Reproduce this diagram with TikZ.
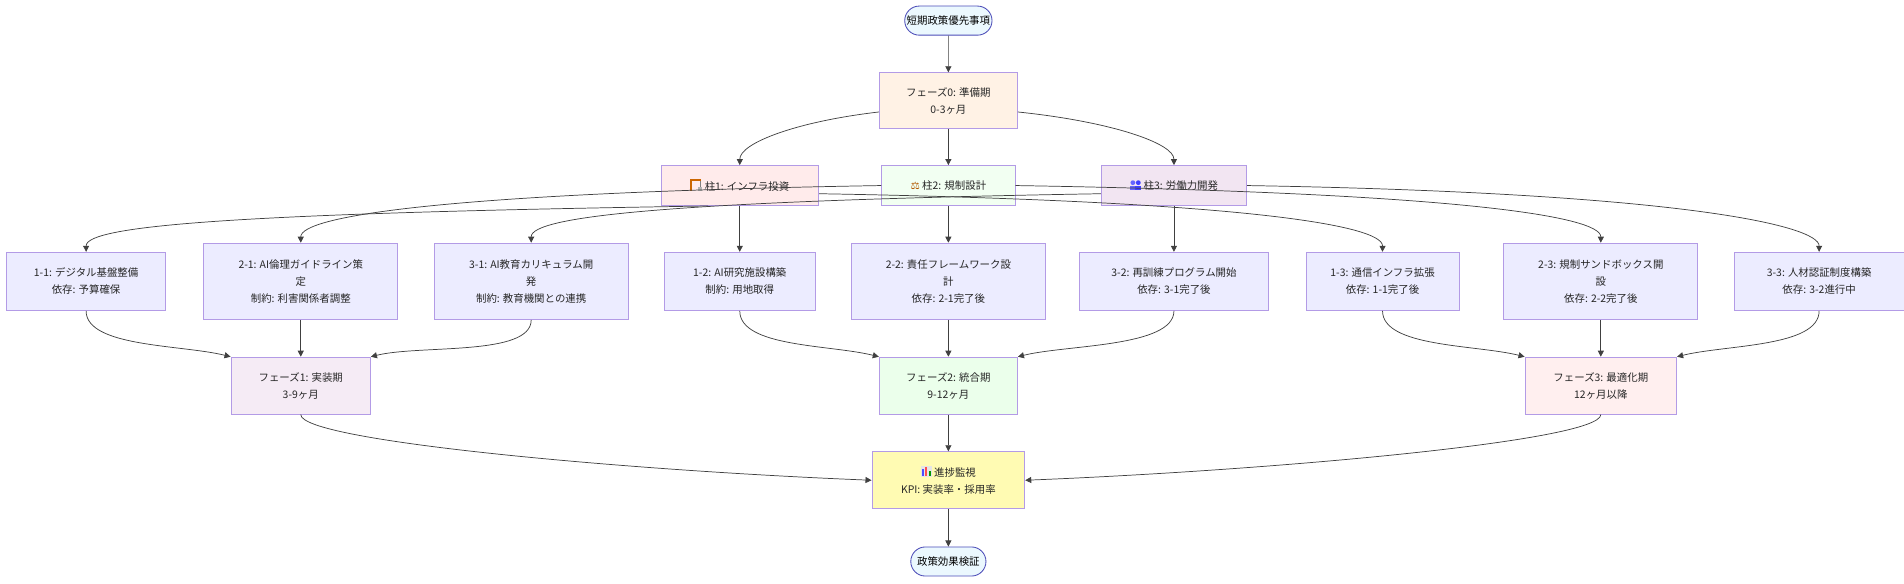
\documentclass[tikz,border=0pt]{standalone}
\usepackage{fontspec}
\setmainfont{Noto Sans CJK JP}
\newfontfamily\dejavu{DejaVu Sans}
\usetikzlibrary{shapes.misc,arrows.meta,calc}
\definecolor{lv}{HTML}{ECECFF}
\definecolor{lvb}{HTML}{9370DB}
\begin{document}
\begin{tikzpicture}[x=1pt,y=-1pt,
  font=\fontsize{8.6}{14}\selectfont,
  box/.style={draw=lvb!70,line width=0.7pt,align=center,inner sep=2pt,minimum height=48,text=black!85},
  leaf/.style={box,fill=lv},
  term/.style={rounded rectangle,draw=blue!60!black!70,line width=0.7pt,fill=cyan!8,minimum height=24,inner xsep=6pt},
  e/.style={draw=black!75,line width=0.6pt,-{Triangle[length=5pt,width=5pt]}}]
\useasboundingbox (0,0) rectangle (1570,481);
\node[term,minimum width=84] (s) at (782,17) {短期政策優先事項};
\node[box,fill=orange!10,minimum width=114,minimum height=46] (p0) at (782,83) {フェーズ0: 準備期\\0-3ヶ月};
\node[box,fill=red!8,minimum width=130,minimum height=33] (c1) at (610,153) {\tikz[x=1pt,y=1pt]{\fill[orange!80!black](0,0) rectangle (1.5,9);\fill[orange!80!black](0,8) rectangle (9,9.5);\draw[gray,line width=0.5pt](8,8)--(8,3);\fill[gray!60](6,0) rectangle (10,3);} 柱1: インフラ投資};
\node[box,fill=green!5,minimum width=110,minimum height=33] (c2) at (782,153) {{\dejavu\color{orange!70!black}⚖}\ 柱2: 規制設計};
\node[box,fill=violet!10,minimum width=120,minimum height=33] (c3) at (968,153) {\tikz[x=1pt,y=1pt]{\fill[blue!60](2.5,6) circle (2);\fill[blue!60](0,0) rectangle (5,3.6);\fill[blue!75](7,6) circle (2);\fill[blue!75](4.5,0) rectangle (9.5,3.6);} 柱3: 労働力開発};
\node[leaf,minimum width=131] (l11) at (71,232) {1-1: デジタル基盤整備\\依存: 予算確保};
\node[leaf,minimum width=160,minimum height=63] (l21) at (248,232) {2-1: AI倫理ガイドライン策\\定\\制約: 利害関係者調整};
\node[leaf,minimum width=160,minimum height=63] (l31) at (438,232) {3-1: AI教育カリキュラム開\\発\\制約: 教育機関との連携};
\node[leaf,minimum width=125] (l12) at (610,232) {1-2: AI研究施設構築\\制約: 用地取得};
\node[leaf,minimum width=160,minimum height=63] (l22) at (782,232) {2-2: 責任フレームワーク設\\計\\依存: 2-1完了後};
\node[leaf,minimum width=156] (l32) at (968,232) {3-2: 再訓練プログラム開始\\依存: 3-1完了後};
\node[leaf,minimum width=126] (l13) at (1140,232) {1-3: 通信インフラ拡張\\依存: 1-1完了後};
\node[leaf,minimum width=160,minimum height=63] (l23) at (1320,232) {2-3: 規制サンドボックス開\\設\\依存: 2-2完了後};
\node[leaf,minimum width=140] (l33) at (1500,232) {3-3: 人材認証制度構築\\依存: 3-2進行中};
\node[box,fill=violet!8,minimum width=115,minimum height=47] (f1) at (248,318) {フェーズ1: 実装期\\3-9ヶ月};
\node[box,fill=green!8,minimum width=114,minimum height=47] (f2) at (782,318) {フェーズ2: 統合期\\9-12ヶ月};
\node[box,fill=pink!25,minimum width=125,minimum height=47] (f3) at (1320,318) {フェーズ3: 最適化期\\12ヶ月以降};
\node[box,fill=yellow!30,minimum width=126,minimum height=47] (m) at (782,396) {\tikz[x=1pt,y=1pt]{\fill[gray!20](0,0) rectangle (9,9);\fill[blue!70](1,1) rectangle (2.6,6);\fill[red!70](3.7,1) rectangle (5.3,8);\fill[green!60!black](6.4,1) rectangle (8,4.5);} 進捗監視\\KPI: 実装率・採用率};
\node[term,minimum width=74] (t) at (782,463) {政策効果検証};
\coordinate (p0l) at ($(p0.south west)!0.3!(p0.north west)$);
\coordinate (p0r) at ($(p0.south east)!0.3!(p0.north east)$);
\coordinate (c1l) at ($(c1.south west)!0.3!(c1.south east)$);
\coordinate (c1r) at ($(c1.south east)!0.3!(c1.north east)$);
\coordinate (c2l) at ($(c2.south west)!0.5!(c2.north west)$);
\coordinate (c2r) at ($(c2.south east)!0.5!(c2.north east)$);
\coordinate (c3l) at ($(c3.south west)!0.3!(c3.north west)$);
\coordinate (c3r) at ($(c3.south east)!0.5!(c3.north east)$);
\draw[e] (s) -- (p0);
\draw[e] (p0) -- (c2);
\draw[e] (p0l) .. controls ($(p0l)!0.6!(c1.north|-p0l)+(0,8)$) and ($(c1.north)+(0,-18)$) .. (c1.north);
\draw[e] (p0r) .. controls ($(p0r)!0.6!(c3.north|-p0r)+(0,8)$) and ($(c3.north)+(0,-18)$) .. (c3.north);
\draw[e] (c1.south) -- (l12);
\draw[e] (c2.south) -- (l22);
\draw[e] (c3.south) -- (l32);
\draw[e] (c1l) .. controls ($(c1l)!0.75!(l11.north|-c1l)+(0,6)$) and ($(l11.north)+(0,-22)$) .. (l11.north);
\draw[e] (c1r) .. controls ($(c1r)!0.75!(l13.north|-c1r)+(0,6)$) and ($(l13.north)+(0,-22)$) .. (l13.north);
\draw[e] (c2l) .. controls ($(c2l)!0.75!(l21.north|-c2l)+(0,6)$) and ($(l21.north)+(0,-22)$) .. (l21.north);
\draw[e] (c2r) .. controls ($(c2r)!0.75!(l23.north|-c2r)+(0,6)$) and ($(l23.north)+(0,-22)$) .. (l23.north);
\draw[e] (c3l) .. controls ($(c3l)!0.75!(l31.north|-c3l)+(0,6)$) and ($(l31.north)+(0,-22)$) .. (l31.north);
\draw[e] (c3r) .. controls ($(c3r)!0.75!(l33.north|-c3r)+(0,6)$) and ($(l33.north)+(0,-22)$) .. (l33.north);
\draw[e] (l11.south) .. controls +(0,30) and +(-40,-10) .. (f1.north west);
\draw[e] (l21.south) -- (f1.north);
\draw[e] (l31.south) .. controls +(0,30) and +(40,-10) .. (f1.north east);
\draw[e] (l12.south) .. controls +(0,30) and +(-40,-10) .. (f2.north west);
\draw[e] (l22.south) -- (f2.north);
\draw[e] (l32.south) .. controls +(0,30) and +(40,-10) .. (f2.north east);
\draw[e] (l13.south) .. controls +(0,30) and +(-40,-10) .. (f3.north west);
\draw[e] (l23.south) -- (f3.north);
\draw[e] (l33.south) .. controls +(0,30) and +(40,-10) .. (f3.north east);
\draw[e] (f1.south) .. controls +(0,22) and +(-200,-8) .. (m.west);
\draw[e] (f2.south) -- (m.north);
\draw[e] (f3.south) .. controls +(0,22) and +(200,-8) .. (m.east);
\draw[e] (m) -- (t);
\end{tikzpicture}
\end{document}
